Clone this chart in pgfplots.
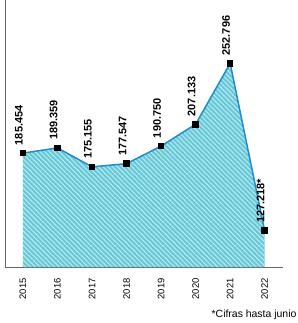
\documentclass[border=0pt]{standalone}
\usepackage{fontspec}
\setmainfont{Liberation Sans}
\usepackage{pgfplots}
\usepackage{pgfplotstable}
\pgfplotsset{compat=1.18}
\usetikzlibrary{patterns.meta}
\definecolor{areafill}{RGB}{100,200,215}
\definecolor{stripe}{RGB}{185,232,238}
\definecolor{linecol}{RGB}{30,140,205}
\pgfplotstableread{
x y label
2015 185454 185.454
2016 189359 189.359
2017 175155 175.155
2018 177547 177.547
2019 190750 190.750
2020 207133 207.133
2021 252796 252.796
2022 127218 127.218*
}\datatab
\begin{document}
\begin{tikzpicture}
\begin{axis}[
  scale only axis, width=278bp, height=267bp,
  xmin=2014.48, xmax=2022.52, ymin=100000, ymax=300000,
  axis x line=bottom, axis y line=left,
  axis line style={-, draw=black!60, line width=0.8bp},
  ytick=\empty,
  xtick={2015,2016,2017,2018,2019,2020,2021,2022},
  xticklabels={2015,2016,2017,2018,2019,2020,2021,2022},
  major tick length=0pt,
  xticklabel style={yshift=-11bp, rotate=90, anchor=east, inner sep=0pt, font=\fontsize{9.5}{10}\selectfont},
  clip mode=individual,
]
\addplot[draw=none, fill=areafill] table[x=x, y=y] {\datatab} \closedcycle;
\addplot[draw=none, pattern={Lines[angle=-45,distance=3.4bp,line width=1.1bp]}, pattern color=stripe] table[x=x, y=y] {\datatab} \closedcycle;
\addplot[linecol, line width=1.5bp, mark=square*, mark size=2.8bp,
  mark options={black, solid, line width=0pt},
  nodes near coords, point meta=explicit symbolic,
  every node near coord/.style={xshift=-4bp, yshift=8bp, rotate=90, anchor=west, inner sep=0pt, black, font=\fontsize{11}{12}\selectfont\bfseries}]
  table[x=x, y=y, meta=label] {\datatab};
\end{axis}
\node[anchor=east, inner sep=0pt, font=\fontsize{10.5}{12}\selectfont] at ([shift={(14bp,-48bp)}]current axis.south east) {*Cifras hasta junio};
\path[use as bounding box] ([shift={(-5bp,-56bp)}]current axis.south west) rectangle ++(298bp,323bp);
\end{tikzpicture}
\end{document}
